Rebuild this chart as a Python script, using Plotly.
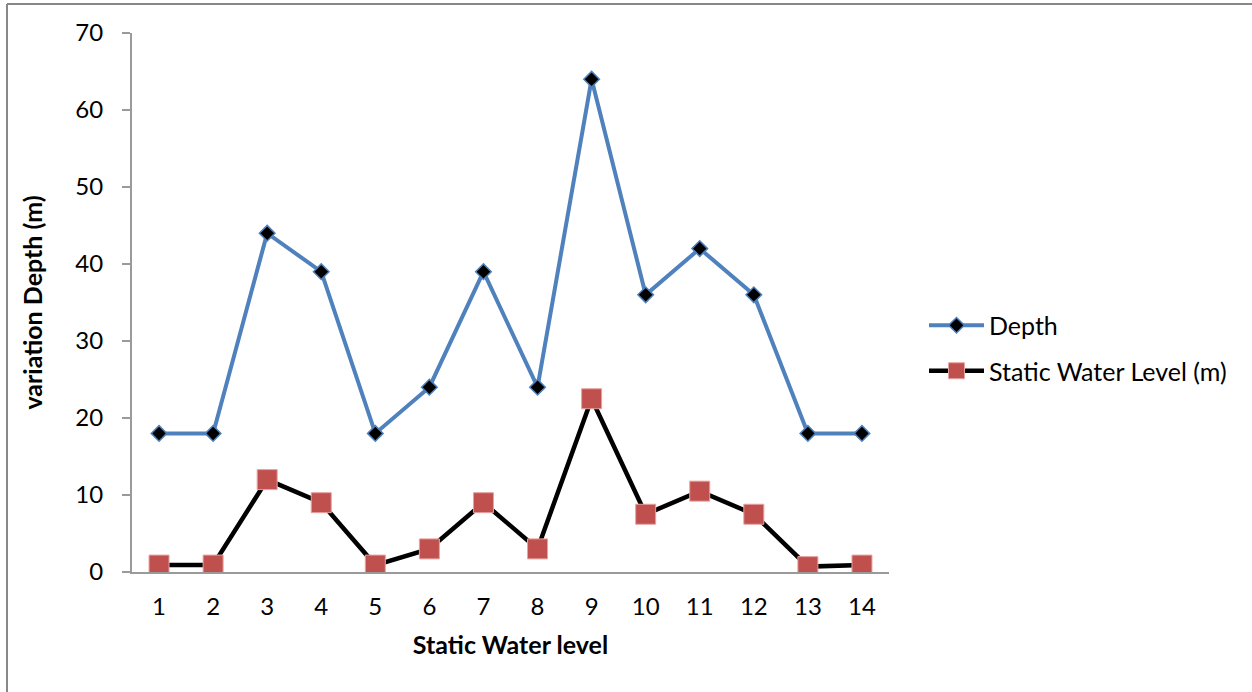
import plotly.graph_objects as go

categories = [str(i) for i in range(1, 15)]
depth = [18, 18, 44, 39, 18, 24, 39, 24, 64, 36, 42, 36, 18, 18]
static_level = [0.9, 0.9, 12, 9, 0.9, 3, 9, 3, 22.5, 7.5, 10.5, 7.5, 0.7, 0.9]

W, H = 1252, 692
L, R, T, B = 132, W - 889, 33, H - 572
pw, ph = W - L - R, H - T - B

def px(x):
    return (x - L) / pw

def py(y):
    return (H - B - y) / ph

FONT = "Lato"

fig = go.Figure()
fig.add_trace(go.Scatter(
    x=categories, y=depth, name="Depth", mode="lines+markers", legendgroup="a",
    line=dict(color="#4F81BD", width=4),
    marker=dict(symbol="diamond", size=12, color="black",
                line=dict(color="#4F81BD", width=1.5)),
))
fig.add_trace(go.Scatter(
    x=categories, y=static_level, name="Static Water Level (m)", mode="lines+markers",
    legendgroup="b",
    line=dict(color="black", width=4.5),
    marker=dict(symbol="square", size=20, color="#C0504D",
                line=dict(color="#E6A3A1", width=1)),
))

fig.update_layout(
    width=W, height=H,
    margin=dict(l=L, r=R, t=T, b=B),
    paper_bgcolor="white", plot_bgcolor="white",
    font=dict(family=FONT, size=24, color="black"),
    showlegend=True,
    legend=dict(x=px(924), y=py(348), xanchor="left", yanchor="middle",
                font=dict(family=FONT, size=25, color="black"),
                itemwidth=55, tracegroupgap=10, bgcolor="rgba(0,0,0,0)"),
    xaxis=dict(
        type="category", range=[-0.5, 13.5],
        showline=True, linecolor="#9A9A9A", linewidth=2,
        showgrid=False, ticks="", zeroline=False,
        tickfont=dict(family=FONT, size=24), ticklabelstandoff=12,
        title=dict(text="<b>Static Water level</b>", font=dict(family=FONT, size=25), standoff=18),
    ),
    yaxis=dict(
        range=[0, 70], dtick=10,
        showline=True, linecolor="#9A9A9A", linewidth=2,
        showgrid=False, ticks="outside", ticklen=8, tickcolor="#9A9A9A", tickwidth=2,
        zeroline=False,
        tickfont=dict(family=FONT, size=24), ticklabelstandoff=14,
        title=dict(text="<b>variation Depth (m)</b>", font=dict(family=FONT, size=25), standoff=26),
    ),
    shapes=[
        dict(type="line", xref="paper", yref="paper", x0=px(7), x1=px(7), y0=py(4), y1=py(H + 5),
             line=dict(color="#888888", width=2)),
        dict(type="line", xref="paper", yref="paper", x0=px(7), x1=px(W + 5), y0=py(4), y1=py(4),
             line=dict(color="#888888", width=2)),
    ],
)

fig.write_html("out.html", config={"displayModeBar": False},
               post_script="document.body.style.margin='0';")
